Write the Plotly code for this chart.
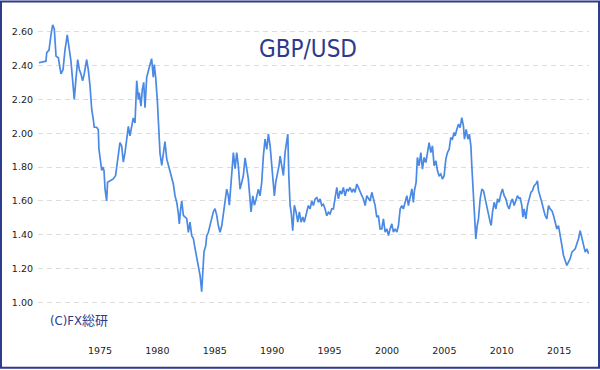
import plotly.graph_objects as go

# GBP/USD rate (decimal year, rate)
years = [
    1969.68, 1969.92, 1970.29, 1970.36, 1970.56, 1970.73, 1970.88, 1971.02, 1971.17, 1971.37,
    1971.60, 1971.78, 1971.95, 1972.15, 1972.32, 1972.47, 1972.62, 1972.76, 1972.88, 1973.06,
    1973.20, 1973.34, 1973.49, 1973.63, 1973.84, 1973.98, 1974.13, 1974.28, 1974.42, 1974.50,
    1974.71, 1974.85, 1974.91, 1975.00, 1975.15, 1975.24, 1975.35, 1975.44, 1975.58, 1975.66,
    1975.87, 1976.16, 1976.36, 1976.53, 1976.74, 1976.89, 1977.03, 1977.18, 1977.33, 1977.47,
    1977.61, 1977.76, 1977.90, 1978.05, 1978.20, 1978.34, 1978.42, 1978.57, 1978.69, 1978.81,
    1978.92, 1979.07, 1979.21, 1979.36, 1979.50, 1979.64, 1979.73, 1979.85, 1979.99, 1980.14,
    1980.23, 1980.38, 1980.52, 1980.66, 1980.81, 1980.95, 1981.10, 1981.25, 1981.39, 1981.54,
    1981.69, 1981.82, 1981.91, 1982.03, 1982.12, 1982.26, 1982.41, 1982.56, 1982.70, 1982.84,
    1982.99, 1983.13, 1983.28, 1983.43, 1983.57, 1983.72, 1983.86, 1983.95, 1984.06, 1984.21,
    1984.30, 1984.44, 1984.59, 1984.73, 1984.87, 1985.02, 1985.17, 1985.31, 1985.46, 1985.61,
    1985.75, 1985.89, 1986.04, 1986.18, 1986.27, 1986.33, 1986.48, 1986.62, 1986.77, 1986.91,
    1987.05, 1987.20, 1987.35, 1987.49, 1987.64, 1987.79, 1987.92, 1988.07, 1988.16, 1988.31,
    1988.45, 1988.60, 1988.80, 1988.94, 1989.09, 1989.23, 1989.38, 1989.53, 1989.67, 1989.82,
    1989.96, 1990.10, 1990.19, 1990.31, 1990.45, 1990.60, 1990.69, 1990.84, 1990.98, 1991.12,
    1991.27, 1991.36, 1991.45, 1991.56, 1991.67, 1991.79, 1991.93, 1992.08, 1992.23, 1992.37,
    1992.52, 1992.67, 1992.80, 1992.87, 1993.01, 1993.15, 1993.30, 1993.45, 1993.59, 1993.74,
    1993.89, 1994.03, 1994.17, 1994.32, 1994.46, 1994.61, 1994.76, 1994.90, 1995.04, 1995.19,
    1995.33, 1995.48, 1995.63, 1995.77, 1995.92, 1996.06, 1996.20, 1996.35, 1996.50, 1996.64,
    1996.79, 1996.94, 1997.08, 1997.22, 1997.37, 1997.51, 1997.66, 1997.81, 1997.95, 1998.10,
    1998.24, 1998.38, 1998.53, 1998.68, 1998.82, 1998.97, 1999.11, 1999.25, 1999.40, 1999.55,
    1999.69, 1999.84, 1999.99, 2000.13, 2000.27, 2000.42, 2000.56, 2000.71, 2000.86, 2001.00,
    2001.15, 2001.29, 2001.43, 2001.58, 2001.73, 2001.87, 2002.02, 2002.17, 2002.30, 2002.39,
    2002.54, 2002.65, 2002.80, 2002.95, 2003.09, 2003.24, 2003.39, 2003.52, 2003.67, 2003.82,
    2003.96, 2004.11, 2004.26, 2004.40, 2004.54, 2004.69, 2004.83, 2004.98, 2005.13, 2005.27,
    2005.42, 2005.56, 2005.70, 2005.85, 2005.94, 2006.09, 2006.23, 2006.37, 2006.52, 2006.66,
    2006.75, 2006.90, 2007.05, 2007.18, 2007.31, 2007.39, 2007.53, 2007.62, 2007.74, 2007.86,
    2007.97, 2008.12, 2008.27, 2008.41, 2008.55, 2008.70, 2008.84, 2008.99, 2009.08, 2009.19,
    2009.34, 2009.49, 2009.63, 2009.77, 2009.92, 2010.06, 2010.21, 2010.36, 2010.50, 2010.64,
    2010.79, 2010.93, 2011.08, 2011.23, 2011.37, 2011.52, 2011.60, 2011.75, 2011.84, 2011.95,
    2012.10, 2012.24, 2012.39, 2012.54, 2012.68, 2012.82, 2012.97, 2013.11, 2013.20, 2013.35,
    2013.49, 2013.63, 2013.78, 2013.93, 2014.07, 2014.22, 2014.37, 2014.51, 2014.65, 2014.80,
    2014.94, 2015.09, 2015.24, 2015.38, 2015.53, 2015.67, 2015.81, 2015.96, 2016.11, 2016.25,
    2016.40, 2016.54, 2016.68, 2016.83, 2016.98, 2017.12, 2017.27, 2017.42, 2017.56,
]
rates = [
    2.416, 2.420, 2.425, 2.475, 2.490, 2.580, 2.640, 2.615, 2.455, 2.445,
    2.350, 2.375, 2.490, 2.580, 2.490, 2.425, 2.310, 2.200, 2.300, 2.435,
    2.375, 2.350, 2.310, 2.350, 2.435, 2.375, 2.280, 2.140, 2.080, 2.035,
    2.035, 2.020, 1.905, 1.845, 1.780, 1.800, 1.780, 1.670, 1.600, 1.710,
    1.720, 1.730, 1.750, 1.850, 1.945, 1.925, 1.830, 1.885, 1.965, 2.040,
    1.985, 2.040, 2.090, 2.060, 2.310, 2.200, 2.240, 2.160, 2.260, 2.300,
    2.150, 2.330, 2.375, 2.405, 2.440, 2.330, 2.405, 2.330, 2.200, 1.965,
    1.880, 1.810, 1.900, 1.950, 1.850, 1.810, 1.770, 1.730, 1.700, 1.630,
    1.590, 1.530, 1.465, 1.555, 1.600, 1.515, 1.505, 1.495, 1.415, 1.475,
    1.395, 1.380, 1.320, 1.260, 1.220, 1.160, 1.065, 1.180, 1.300, 1.335,
    1.395, 1.415, 1.455, 1.495, 1.535, 1.555, 1.515, 1.455, 1.415, 1.455,
    1.535, 1.610, 1.670, 1.630, 1.575, 1.630, 1.770, 1.885, 1.790, 1.885,
    1.810, 1.670, 1.710, 1.750, 1.855, 1.790, 1.730, 1.610, 1.535, 1.630,
    1.575, 1.610, 1.670, 1.630, 1.710, 1.865, 1.965, 1.905, 1.995, 1.925,
    1.810, 1.690, 1.630, 1.710, 1.750, 1.810, 1.865, 1.790, 1.750, 1.885,
    1.965, 1.995, 1.750, 1.575, 1.525, 1.425, 1.575, 1.535, 1.475, 1.535,
    1.475, 1.505, 1.475, 1.494, 1.533, 1.573, 1.553, 1.600, 1.573, 1.612,
    1.620, 1.592, 1.612, 1.573, 1.580, 1.553, 1.513, 1.533, 1.523, 1.553,
    1.553, 1.631, 1.680, 1.612, 1.660, 1.641, 1.680, 1.631, 1.671, 1.660,
    1.680, 1.651, 1.671, 1.651, 1.700, 1.680, 1.651, 1.631, 1.612, 1.573,
    1.631, 1.612, 1.600, 1.651, 1.620, 1.573, 1.504, 1.513, 1.435, 1.435,
    1.494, 1.416, 1.435, 1.396, 1.435, 1.465, 1.416, 1.435, 1.416, 1.455,
    1.553, 1.573, 1.553, 1.592, 1.631, 1.573, 1.631, 1.671, 1.592, 1.660,
    1.710, 1.857, 1.808, 1.886, 1.788, 1.857, 1.827, 1.886, 1.945, 1.886,
    1.925, 1.808, 1.837, 1.778, 1.749, 1.759, 1.729, 1.749, 1.847, 1.886,
    1.906, 1.974, 1.965, 2.004, 1.984, 2.023, 2.053, 2.033, 2.092, 2.043,
    1.965, 2.023, 1.965, 1.994, 1.925, 1.808, 1.651, 1.533, 1.376, 1.455,
    1.494, 1.612, 1.671, 1.660, 1.612, 1.573, 1.514, 1.475, 1.455, 1.533,
    1.592, 1.553, 1.612, 1.592, 1.641, 1.671, 1.631, 1.612, 1.573, 1.553,
    1.592, 1.612, 1.573, 1.612, 1.631, 1.612, 1.621, 1.573, 1.504, 1.553,
    1.494, 1.573, 1.612, 1.651, 1.661, 1.690, 1.700, 1.719, 1.661, 1.631,
    1.592, 1.553, 1.514, 1.494, 1.573, 1.553, 1.543, 1.514, 1.475, 1.435,
    1.455, 1.406, 1.337, 1.278, 1.239, 1.219, 1.239, 1.259, 1.298, 1.307,
    1.317, 1.347, 1.376, 1.425, 1.376, 1.337, 1.298, 1.317, 1.288,
]

x_tick_years = [1975, 1980, 1985, 1990, 1995, 2000, 2005, 2010, 2015]
y_tick_values = [0.8, 1.0, 1.2, 1.4, 1.6, 1.8, 2.0, 2.2, 2.4, 2.6]
y_tick_labels = ["", "1.00", "1.20", "1.40", "1.60", "1.80", "2.00", "2.20", "2.40", "2.60"]

title_text = "GBP/USD"
credit_text = "(C)FX総研"

NAVY = "#2e3a8c"
LINE = "#4a89e4"
NARROW = "Liberation Sans Narrow, DejaVu Sans Condensed, Arial Narrow, sans-serif"

fig = go.Figure()
fig.add_trace(go.Scatter(
    x=years, y=rates, mode="lines",
    line=dict(color=LINE, width=1.7),
    hoverinfo="skip", showlegend=False,
))

fig.update_layout(
    width=600, height=370,
    margin=dict(l=38, r=11, t=18, b=33),
    paper_bgcolor="white", plot_bgcolor="white",
    showlegend=False,
    xaxis=dict(
        range=[1969.6, 2017.6],
        tickvals=x_tick_years,
        ticktext=[str(v) for v in x_tick_years],
        showgrid=False, zeroline=False, showline=False,
        ticks="", ticklabelstandoff=6,
        tickfont=dict(family="DejaVu Sans, Verdana, sans-serif", size=9.5, color="#222222"),
    ),
    yaxis=dict(
        range=[0.797, 2.68],
        tickvals=y_tick_values,
        ticktext=y_tick_labels,
        showgrid=True, gridcolor="#dddddd", gridwidth=1, griddash="5px,4px",
        zeroline=False, showline=False,
        ticks="", ticklabelstandoff=4,
        tickfont=dict(family="DejaVu Sans, Verdana, sans-serif", size=9.5, color="#222222"),
    ),
    annotations=[
        dict(text=title_text, xref="paper", yref="paper", x=0.49, y=0.902,
             xanchor="center", yanchor="middle", showarrow=False,
             font=dict(family=NARROW, size=24, color=NAVY)),
        dict(text=credit_text, xref="paper", yref="paper", x=0.018, y=0.051,
             xanchor="left", yanchor="middle", showarrow=False,
             font=dict(family=NARROW + ", Noto Sans CJK JP", size=13, color=NAVY)),
    ],
    shapes=[
        dict(type="rect", xref="paper", yref="paper",
             x0=-0.0672, x1=1.0182, y0=-0.0965, y1=1.0516,
             line=dict(color=NAVY, width=2), fillcolor="rgba(0,0,0,0)", layer="above"),
    ],
)

fig.write_html("out.html", config={"displayModeBar": False},
               post_script="document.body.style.margin='0px';")
